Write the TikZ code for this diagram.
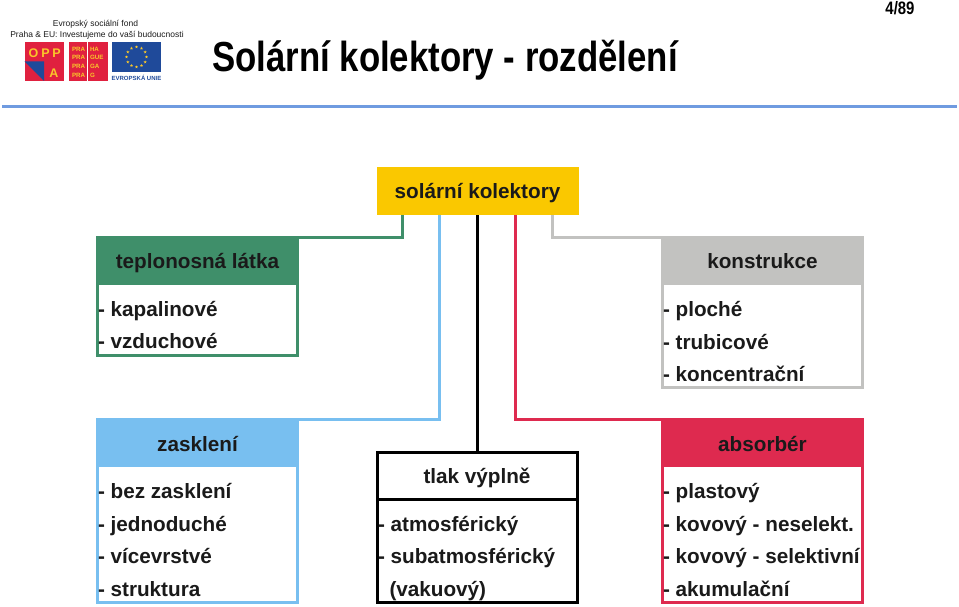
\documentclass[tikz,border=0pt]{standalone}
\usepackage{fontspec}
\setmainfont{Liberation Sans}
\usetikzlibrary{shapes.geometric}
\definecolor{leafgreen}{HTML}{3F8F6A}
\definecolor{skyblue}{HTML}{78BFF0}
\definecolor{signalred}{HTML}{DE2A4F}
\definecolor{stonegray}{HTML}{C2C2C0}
\definecolor{sunyellow}{HTML}{FAC800}
\definecolor{inkblack}{HTML}{1A1A1A}
\definecolor{rulerblue}{HTML}{6F9BE0}
\definecolor{logored}{HTML}{E0213F}
\definecolor{logoblue}{HTML}{1F4A9A}
\definecolor{logogold}{HTML}{F9C72A}
\tikzset{
  cardframe/.style={draw=#1,line width=2.8pt,fill=white,minimum width=200.5pt,inner sep=0pt,outer sep=0pt},
  cardhead/.style={fill=#1,minimum width=203pt,minimum height=48pt,inner sep=0pt,outer sep=0pt,
    font=\fontsize{20.7}{21}\bfseries,text=inkblack,text depth=0pt},
  itemline/.style={anchor=base west,inner sep=0pt,outer sep=0pt,font=\fontsize{20.7}{21}\bfseries,text=inkblack},
  link/.style={draw=#1,line width=2.8pt},
  smallcaption/.style={anchor=base,inner sep=0pt,outer sep=0pt,text=inkblack},
  logomark/.style={inner sep=0pt,outer sep=0pt,anchor=base,text=logogold,font=\fontsize{6.2}{6.2}\bfseries}
}
\begin{document}
\begin{tikzpicture}[x=1pt,y=-1pt]
\useasboundingbox (0,0) rectangle (959,607);

% header rule, title and page number
\fill[rulerblue] (2,105) rectangle (957,108);
\node[anchor=base west,inner sep=0pt,xscale=.828,transform shape,font=\fontsize{42}{42}\bfseries,text=black] (title) at (212,72) {Solární kolektory - rozdělení};
\node[anchor=base,inner sep=0pt,xscale=.83,transform shape,font=\fontsize{18}{18}\bfseries,text=black] (pageno) at (900,15) {4/89};

% funding logos
\node[smallcaption,font=\fontsize{8.5}{8.5}\selectfont] (fundA) at (95.5,27) {Evropský sociální fond};
\node[smallcaption,font=\fontsize{8.5}{8.5}\selectfont] (fundB) at (97,38) {Praha \& EU: Investujeme do vaší budoucnosti};
\fill[logored] (24.5,42.5) rectangle (63.5,81);
\fill[logoblue] (24.5,61.5) -- (44,61.5) -- (44,81) -- cycle;
\node[logomark,font=\fontsize{12.5}{12.5}\bfseries] (oppaO) at (33.5,58) {O};
\node[logomark,font=\fontsize{12.5}{12.5}\bfseries] (oppaP) at (45.5,58) {P};
\node[logomark,font=\fontsize{12.5}{12.5}\bfseries] (oppaQ) at (56.5,58) {P};
\node[logomark,font=\fontsize{12.5}{12.5}\bfseries] (oppaA) at (54,78) {A};
\fill[logored] (68.5,42.5) rectangle (107.5,81);
\draw[white,line width=.8pt] (87.7,42.5) -- (87.7,81);
\foreach \i/\a/\b/\y in {1/PRA/HA/51.5,2/PRA/GUE/60,3/PRA/GA/69,4/PRA/G/78}{
  \node[logomark,anchor=base west] (pra\i) at (72,\y) {\a};
  \node[logomark,anchor=base west] (suf\i) at (90,\y) {\b};
}
\fill[logoblue] (112,42.5) rectangle (161,72);
\foreach \a in {0,30,...,330}{
  \node[star,star points=5,star point ratio=2.4,fill=logogold,inner sep=0pt,minimum size=3.2pt,name=eu\a] at ({136.5+10*cos(\a)},{57+10*sin(\a)}) {};
}
\node[logomark,text=logoblue,font=\fontsize{6}{6}\bfseries] (euname) at (136.5,81) {EVROPSKÁ UNIE};

% root box
\node[fill=sunyellow,minimum width=202pt,minimum height=48pt,inner sep=0pt,outer sep=0pt,
  font=\fontsize{20.7}{21}\bfseries,text=inkblack,text height=14pt,text depth=0pt] (root) at (477.5,191) {solární kolektory};

% category cards
\node[cardframe=leafgreen,minimum height=118pt] (fluid) at (197.5,296.5) {};
\node[cardhead=leafgreen,text height=14pt] (fluidH) at (197.5,261) {teplonosná látka};
\node[cardframe=stonegray,minimum height=150pt] (frame) at (762.5,312.5) {};
\node[cardhead=stonegray,text height=14pt] (frameH) at (762.5,261) {konstrukce};
\node[cardframe=skyblue,minimum height=183pt] (glass) at (197.5,511) {};
\node[cardhead=skyblue,text height=16pt] (glassH) at (197.5,443) {zasklení};
\node[cardframe=signalred,minimum height=183pt] (absorb) at (762.5,511) {};
\node[cardhead=signalred,text height=16pt] (absorbH) at (762.5,443) {absorbér};
\node[cardframe=black,minimum height=150pt] (press) at (477.5,527.5) {};
\node[inner sep=0pt,outer sep=0pt,font=\fontsize{20.7}{21}\bfseries,text=inkblack,anchor=base] (pressH) at (477,483) {tlak výplně};
\draw[link=black] (press.west |- 0,499.5) -- (press.east |- 0,499.5);

% connectors from the root to each card
\draw[link=leafgreen] (root.south -| 402.5,0) |- (fluidH.north east |- 0,237.5);
\draw[link=skyblue] (root.south -| 439.5,0) |- (glassH.north east |- 0,419.5);
\draw[link=black] (root.south -| 477.5,0) -- (press.north -| 477.5,0);
\draw[link=signalred] (root.south -| 515.5,0) |- (absorbH.north west |- 0,419.5);
\draw[link=stonegray] (root.south -| 552.5,0) |- (frameH.north west |- 0,237.5);

% card contents
\node[itemline] (f1) at (98,316) {- kapalinové};
\node[itemline] (f2) at (98,348) {- vzduchové};
\node[itemline] (k1) at (663,316) {- ploché};
\node[itemline] (k2) at (663,349) {- trubicové};
\node[itemline] (k3) at (663,381) {- koncentrační};
\node[itemline] (g1) at (98,498) {- bez zasklení};
\node[itemline] (g2) at (98,531) {- jednoduché};
\node[itemline] (g3) at (98,563) {- vícevrstvé};
\node[itemline] (g4) at (98,596) {- struktura};
\node[itemline] (p1) at (378,531) {- atmosférický};
\node[itemline] (p2) at (378,563) {- subatmosférický};
\node[itemline] (p3) at (389.5,596) {(vakuový)};
\node[itemline] (a1) at (663,498) {- plastový};
\node[itemline] (a2) at (663,531) {- kovový - neselekt.};
\node[itemline] (a3) at (663,563) {- kovový - selektivní};
\node[itemline] (a4) at (663,596) {- akumulační};
\end{tikzpicture}
\end{document}
